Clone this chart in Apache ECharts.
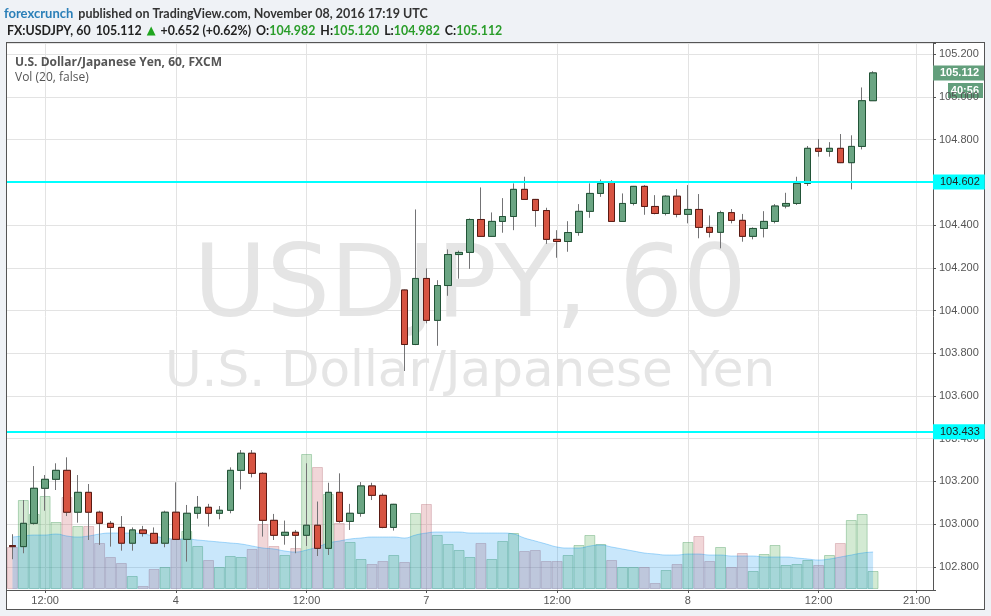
<!DOCTYPE html>
<html>
<head>
<meta charset="utf-8">
<title>USDJPY, 60</title>
<script src="https://cdn.jsdelivr.net/npm/echarts/dist/echarts.min.js"></script>
<style>
  html, body { margin: 0; padding: 0; background: #eff2f6; }
  .panel { position: absolute; left: 6px; top: 42px; width: 979px; height: 568px;
           border: 1px solid #555; box-sizing: border-box; background: #fff; }
  #chart { position: absolute; left: 0; top: 0; width: 991px; height: 616px; }
</style>
</head>
<body>
<div class="panel"></div>
<div id="chart"></div>
<script>
  // trading sessions (day, first hour, last hour) - weekend is skipped like on TradingView
  var sessions = [
    ['Nov 3', 9, 23],
    ['Nov 4', 0, 20],
    ['Nov 6', 22, 23],
    ['Nov 7', 0, 23],
    ['Nov 8', 0, 22]
  ];
  var tickAt = ['Nov 3 12:00', 'Nov 4 00:00', 'Nov 4 12:00', 'Nov 7 00:00',
                'Nov 7 12:00', 'Nov 8 00:00', 'Nov 8 12:00', 'Nov 8 21:00'];
  var tickText = ['12:00', '4', '12:00', '7', '12:00', '8', '12:00', '21:00'];

  // [open, close, low, high]
  var candles = [
    [102.900, 102.895, 102.836, 102.953], [102.895, 103.004, 102.864, 103.113],
    [103.004, 103.168, 102.998, 103.272], [103.168, 103.210, 103.063, 103.230],
    [103.210, 103.252, 103.160, 103.285], [103.252, 103.056, 103.038, 103.313],
    [103.056, 103.149, 103.007, 103.230], [103.149, 103.056, 102.926, 103.188],
    [103.056, 103.004, 102.903, 103.063], [103.004, 102.985, 102.895, 103.015],
    [102.985, 102.911, 102.876, 103.038], [102.911, 102.973, 102.876, 102.985],
    [102.973, 102.957, 102.942, 102.992], [102.957, 102.911, 102.908, 102.985],
    [102.911, 103.056, 102.892, 103.063], [103.056, 102.929, 102.926, 103.196],
    [102.929, 103.051, 102.825, 103.090], [103.051, 103.079, 103.026, 103.132],
    [103.079, 103.051, 102.989, 103.095], [103.051, 103.065, 103.023, 103.085],
    [103.065, 103.252, 103.051, 103.266], [103.252, 103.332, 103.163, 103.347],
    [103.332, 103.238, 103.219, 103.347], [103.238, 103.018, 102.942, 103.243],
    [103.018, 102.948, 102.926, 103.048], [102.948, 102.962, 102.904, 103.017],
    [102.962, 102.948, 102.864, 102.973], [102.948, 102.995, 102.898, 103.285],
    [102.995, 102.887, 102.851, 103.106], [102.887, 103.149, 102.856, 103.194],
    [103.149, 103.013, 103.007, 103.238], [103.013, 103.051, 102.973, 103.095],
    [103.051, 103.179, 103.035, 103.197], [103.179, 103.135, 103.113, 103.194],
    [103.135, 102.985, 102.981, 103.144], [102.985, 103.093, 102.970, 103.095],
    [104.096, 103.841, 103.717, 104.098], [103.841, 104.150, 103.838, 104.473],
    [104.150, 103.954, 103.940, 104.197], [103.954, 104.117, 103.835, 104.142],
    [104.117, 104.262, 104.069, 104.286], [104.262, 104.272, 104.149, 104.280],
    [104.272, 104.426, 104.195, 104.431], [104.426, 104.347, 104.345, 104.576],
    [104.347, 104.417, 104.345, 104.459], [104.417, 104.440, 104.364, 104.526],
    [104.440, 104.567, 104.376, 104.595], [104.567, 104.520, 104.518, 104.626],
    [104.520, 104.468, 104.392, 104.522], [104.468, 104.333, 104.312, 104.481],
    [104.333, 104.323, 104.247, 104.376], [104.323, 104.365, 104.275, 104.418],
    [104.365, 104.464, 104.350, 104.498], [104.464, 104.548, 104.434, 104.595],
    [104.548, 104.595, 104.532, 104.613], [104.600, 104.417, 104.415, 104.610],
    [104.417, 104.501, 104.415, 104.548], [104.501, 104.581, 104.492, 104.583],
    [104.581, 104.487, 104.448, 104.587], [104.487, 104.454, 104.450, 104.540],
    [104.454, 104.535, 104.445, 104.540], [104.535, 104.450, 104.436, 104.568],
    [104.450, 104.473, 104.408, 104.587], [104.473, 104.389, 104.338, 104.545],
    [104.389, 104.366, 104.342, 104.445], [104.366, 104.458, 104.291, 104.467],
    [104.458, 104.422, 104.408, 104.475], [104.422, 104.347, 104.322, 104.452],
    [104.347, 104.384, 104.333, 104.389], [104.384, 104.417, 104.342, 104.465],
    [104.417, 104.489, 104.408, 104.498], [104.489, 104.501, 104.478, 104.551],
    [104.501, 104.595, 104.494, 104.626], [104.595, 104.759, 104.583, 104.770],
    [104.759, 104.745, 104.720, 104.802], [104.745, 104.759, 104.720, 104.788],
    [104.759, 104.692, 104.690, 104.826], [104.692, 104.768, 104.567, 104.820],
    [104.768, 104.982, 104.754, 105.044], [104.982, 105.112, 104.982, 105.120]
  ];

  var volumes = [42, 89, 75, 93, 67, 92, 63, 63, 46, 32, 26, 13, 3, 20, 22, 50, 58, 43, 29, 22,
                 33, 32, 40, 65, 43, 34, 41, 135, 122, 95, 66, 47, 30, 25, 28, 34, 27, 76, 85, 54,
                 45, 39, 32, 46, 30, 48, 56, 38, 39, 28, 28, 34, 44, 54, 45, 29, 22, 22, 22, 6,
                 19, 25, 47, 53, 28, 42, 22, 36, 18, 35, 44, 24, 25, 29, 24, 34, 46, 69, 75, 18];
  var volumeMA = [52, 53, 54, 54, 55, 53, 52, 53, 55, 56, 56, 56, 55, 53, 51, 50, 50, 49, 48, 47,
                  46, 45, 43, 41, 40, 38, 37, 39, 42, 46, 48, 50, 51, 52, 52, 52, 51, 54, 56, 57,
                  57, 57, 56, 56, 56, 56, 55, 51, 48, 45, 42, 41, 41, 43, 44, 42, 40, 38, 36, 35,
                  34, 34, 35, 35, 34, 34, 33, 33, 33, 32, 32, 32, 31, 30, 29, 30, 32, 34, 36, 37];

  var levels = [104.602, 103.433];
  var lastPrice = 105.112;

  var categories = [];
  sessions.forEach(function (s) {
    for (var h = s[1]; h <= s[2]; h++) {
      categories.push(s[0] + ' ' + (h < 10 ? '0' : '') + h + ':00');
    }
  });

  function isTick(i, v) { return tickAt.indexOf(categories[i]) >= 0; }
  function tickLabel(v) { var k = tickAt.indexOf(v); return k >= 0 ? tickText[k] : ''; }

  var upColor = '#6ba583', downColor = '#d75442';
  var gridColor = '#e3e3e3', axisColor = '#555';

  var chart = echarts.init(document.getElementById('chart'));

  var option = {
    animation: false,
    backgroundColor: 'transparent',
    title: [
      {
        left: 4, top: 5, padding: 0,
        text: '{a|forexcrunch} {b|published on TradingView.com, November 08, 2016 17:19 UTC}',
        textStyle: { rich: {
          a: { color: '#2a7fb8', fontSize: 13, fontFamily: 'Lato', fontWeight: 'bold' },
          b: { color: '#333', fontSize: 12.5, fontFamily: 'Lato' }
        } }
      },
      {
        left: 7, top: 22, padding: 0,
        text: '{k|FX:USDJPY, 60} {n|105.112} {u|▲} {n|+0.652 (+0.62%)} {k|O:}{g|104.982} {k|H:}{g|105.120} {k|L:}{g|104.982} {k|C:}{g|105.112}',
        textStyle: { rich: {
          k: { color: '#222', fontSize: 12.4, fontFamily: 'Lato', fontWeight: 'bold' },
          n: { color: '#222', fontSize: 12.4, fontFamily: 'Lato' },
          u: { color: '#1fa51f', fontSize: 11.5, fontFamily: 'DejaVu Sans' },
          g: { color: '#2a9d2a', fontSize: 12.4, fontFamily: 'Lato' }
        } }
      },
      {
        left: 15, top: 57, padding: 0,
        text: 'U.S. Dollar/Japanese Yen, 60, FXCM',
        textStyle: { color: '#555', fontSize: 12, fontFamily: 'Open Sans', fontWeight: 'bold' }
      },
      {
        left: 15, top: 72, padding: 0,
        text: 'Vol (20, false)',
        textStyle: { color: '#555', fontSize: 12, fontFamily: 'Open Sans', fontWeight: 'normal' }
      }
    ],
    graphic: [
      {
        id: 'wmSymbol', type: 'text', silent: true, z: -1,
        style: { x: 470, y: 290, text: 'USDJPY, 60', textAlign: 'center', textVerticalAlign: 'middle',
                 font: '100px "DejaVu Sans"', fill: '#e5e5e5' }
      },
      {
        id: 'wmName', type: 'text', silent: true, z: -1,
        style: { x: 470, y: 373, text: 'U.S. Dollar/Japanese Yen', textAlign: 'center', textVerticalAlign: 'middle',
                 font: '50px "DejaVu Sans"', fill: '#e5e5e5' }
      }
    ],
    grid: [
      { left: 7, right: 58, top: 43, bottom: 26 },
      { left: 7, right: 58, top: 440, bottom: 27 }
    ],
    xAxis: [
      {
        type: 'category', gridIndex: 0, data: categories, boundaryGap: true,
        axisLine: { onZero: false, lineStyle: { color: axisColor } },
        axisTick: { show: true, length: 3, alignWithLabel: true, interval: isTick, lineStyle: { color: axisColor } },
        axisLabel: { interval: isTick, formatter: tickLabel, color: '#555', fontSize: 11,
                     fontFamily: 'Liberation Sans, Arial', margin: 5 },
        splitLine: { show: true, interval: isTick, alignWithLabel: true, lineStyle: { color: gridColor } }
      },
      { type: 'category', gridIndex: 1, data: categories, boundaryGap: true, show: false }
    ],
    yAxis: [
      {
        type: 'value', gridIndex: 0, position: 'right', min: 102.692, max: 105.252, splitNumber: 12,
        axisLine: { show: true, lineStyle: { color: axisColor } },
        axisTick: { show: true, length: 3, lineStyle: { color: axisColor } },
        axisLabel: {
          color: '#555', fontSize: 11, fontFamily: 'Liberation Sans, Arial', margin: 6,
          formatter: function (v) {
            var k = Math.round(v / 0.2);
            return Math.abs(v - k * 0.2) < 1e-6 ? v.toFixed(3) : '';
          }
        },
        splitLine: { lineStyle: { color: gridColor } }
      },
      { type: 'value', gridIndex: 1, min: 0, max: 149, show: false }
    ],
    series: [
      {
        type: 'bar', xAxisIndex: 1, yAxisIndex: 1, barCategoryGap: '0%', z: 1,
        data: volumes.map(function (v, i) {
          var up = candles[i][1] >= candles[i][0];
          return {
            value: v,
            itemStyle: up
              ? { color: 'rgba(80,170,80,0.25)', borderColor: 'rgba(80,160,100,0.4)', borderWidth: 1 }
              : { color: 'rgba(200,90,100,0.25)', borderColor: 'rgba(180,110,120,0.35)', borderWidth: 1 }
          };
        })
      },
      {
        type: 'line', xAxisIndex: 1, yAxisIndex: 1, data: volumeMA, smooth: true, showSymbol: false, z: 2,
        lineStyle: { color: 'rgba(0,142,238,0.32)', width: 1 },
        areaStyle: { color: 'rgba(0,142,238,0.3)' }
      },
      {
        type: 'candlestick', name: 'wicks', data: candles, barWidth: 7, z: 3,
        itemStyle: { color: 'transparent', color0: 'transparent', borderColor: '#737375',
                     borderColor0: '#737375', borderWidth: 1 }
      },
      {
        type: 'candlestick', name: 'USDJPY', z: 4, barWidth: 7,
        data: candles.map(function (c) {
          return [c[0], c[1], Math.min(c[0], c[1]), Math.max(c[0], c[1])];
        }),
        itemStyle: { color: upColor, color0: downColor, borderColor: '#225437',
                     borderColor0: '#5b1a13', borderWidth: 1 },
        markLine: {
          silent: true, symbol: ['none', 'none'], animation: false, precision: 3,
          lineStyle: { color: '#00ffff', width: 2, type: 'solid' },
          label: {
            position: 'end', distance: 0, color: '#222', fontSize: 11, fontFamily: 'Liberation Sans, Arial',
            backgroundColor: '#00ffff', padding: [2, 5, 2, 7],
            formatter: function (p) { return Number(p.value).toFixed(3); }
          },
          data: levels.map(function (v) { return { yAxis: v }; }).concat([{
            yAxis: lastPrice,
            lineStyle: { color: 'transparent', width: 0 },
            label: { backgroundColor: '#639f7c', color: '#fff', fontWeight: 'bold' }
          }])
        }
      }
    ]
  };

  chart.setOption(option);

  // bar countdown under the last price label, placed from the price axis
  var yLast = chart.convertToPixel({ yAxisIndex: 0 }, lastPrice);
  option.graphic.push({
    id: 'countdown', type: 'group', silent: true, z: 10, x: 948, y: yLast + 10,
    children: [
      { type: 'rect', shape: { x: 0, y: 0, width: 35, height: 15 }, style: { fill: '#639f7c' } },
      { type: 'text', style: { x: 31, y: 8, text: '40:56', textAlign: 'right', textVerticalAlign: 'middle',
        font: 'bold 11px "Liberation Sans", Arial', fill: '#fff' } }
    ]
  });
  chart.setOption(option, true);
</script>
</body>
</html>
